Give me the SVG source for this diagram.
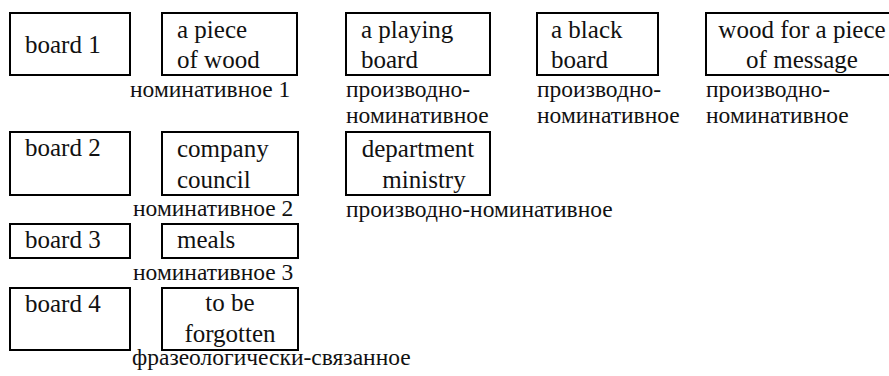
<svg xmlns="http://www.w3.org/2000/svg" width="889" height="376" viewBox="0 0 889 376">
<style>
rect{fill:#fff;stroke:#000;stroke-width:2}
text{font-family:"Liberation Serif","Times New Roman",serif;fill:#111}
.b{font-size:25px}
.l{font-size:23.5px}
.c{text-anchor:middle}
</style>
<rect x="0" y="0" width="889" height="376" style="stroke:none"/>
<g id="connectors"></g>
<g id="board1"><rect x="10" y="13" width="120" height="62"/><text class="b" x="25" y="53">board 1</text></g>
<g id="piece-of-wood"><rect x="162" y="13" width="135" height="62"/><text class="b" x="177" y="38">a piece</text><text class="b" x="177" y="68">of wood</text></g>
<g id="playing-board"><rect x="346" y="13" width="144" height="62"/><text class="b" x="361" y="38">a playing</text><text class="b" x="361" y="68">board</text></g>
<g id="black-board"><rect x="537" y="13" width="121" height="62"/><text class="b" x="551" y="38">a black</text><text class="b" x="551" y="68">board</text></g>
<g id="wood-message"><rect x="706" y="13" width="192" height="62"/><text class="b c" x="802" y="38">wood for a piece</text><text class="b c" x="802" y="68">of message</text></g>
<g id="label-row1">
<text class="l" x="130" y="97">номинативное 1</text>
<text class="l" x="346" y="97">производно-</text><text class="l" x="346" y="123">номинативное</text>
<text class="l" x="537" y="97">производно-</text><text class="l" x="537" y="123">номинативное</text>
<text class="l" x="706" y="97">производно-</text><text class="l" x="706" y="123">номинативное</text>
</g>
<g id="board2"><rect x="10" y="132" width="120" height="63"/><text class="b" x="25" y="156">board 2</text></g>
<g id="company-council"><rect x="162" y="132" width="136" height="63"/><text class="b" x="177" y="157">company</text><text class="b" x="177" y="188">council</text></g>
<g id="department-ministry"><rect x="346" y="132" width="144" height="63"/><text class="b c" x="418" y="157">department</text><text class="b c" x="424" y="188">ministry</text></g>
<g id="label-row2">
<text class="l" x="133" y="216">номинативное 2</text>
<text class="l" x="346" y="217">производно-номинативное</text>
</g>
<g id="board3"><rect x="10" y="224" width="120" height="34"/><text class="b" x="25" y="248">board 3</text></g>
<g id="meals"><rect x="162" y="224" width="136" height="34"/><text class="b" x="177" y="248">meals</text></g>
<g id="label-row3"><text class="l" x="133" y="280">номинативное 3</text></g>
<g id="board4"><rect x="10" y="288" width="120" height="62"/><text class="b" x="25" y="312">board 4</text></g>
<g id="to-be-forgotten"><rect x="162" y="288" width="136" height="62"/><text class="b c" x="230" y="311">to be</text><text class="b c" x="230" y="342">forgotten</text></g>
<g id="label-row4"><text class="l" x="132" y="365">фразеологически-связанное</text></g>
</svg>
